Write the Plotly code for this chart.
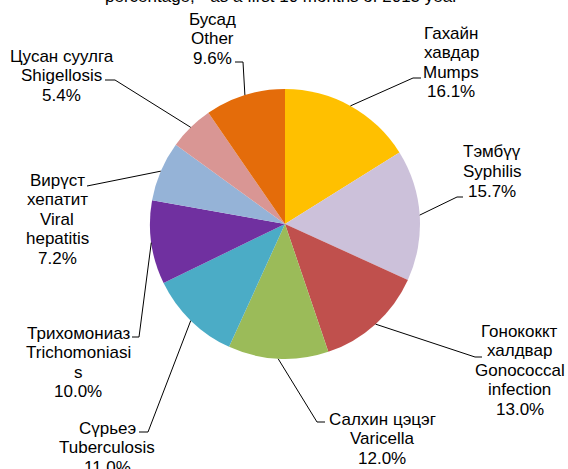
import math
import plotly.graph_objects as go

# ---------------- data ----------------
categories_mn = ["Гахайн хавдар", "Тэмбүү", "Гонококкт халдвар", "Салхин цэцэг",
                 "Сүрьеэ", "Трихомониаз", "Вирүст хепатит", "Цусан суулга", "Бусад"]
categories_en = ["Mumps", "Syphilis", "Gonococcal infection", "Varicella",
                 "Tuberculosis", "Trichomoniasis", "Viral hepatitis", "Shigellosis", "Other"]
values = [16.1, 15.7, 13.0, 12.0, 11.0, 10.0, 7.2, 5.4, 9.6]
colors = ["#FFC000", "#CCC1DA", "#C0504D", "#9BBB59", "#4BACC6",
          "#7030A0", "#95B3D7", "#D99694", "#E46C0A"]
title_text = 'percentage,  "as a first 10 months of 2013 year'

# ---------------- layout constants (pixels) ----------------
W, H = 568, 469
CX, CY, R = 285, 224, 135
FONT = "Liberation Sans, Arial, sans-serif"
FS = 17
LINE_GAP = 19.6
wrap_width = [12, 13, 13, 13, 13, 13, 13, 13, 13]
label_anchor = [(451, 33), (492, 152), (519.5, 331), (382, 419), (107, 428),
                (78, 333), (57, 180), (62, 56), (212, 19)]
leader_elbow = [(413, 78), (457, 197), (475, 357), (317, 422), (148, 432),
                (139, 337), (97, 184), (115, 80), (243, 62)]
leader_end = [(421, 78), (463, 197), (482, 357), (325, 422), (139, 432),
              (132, 337), (87, 186), (105, 80), (235, 62)]


def wrap(text, width):
    lines, cur = [], ""
    for word in text.split(" "):
        while len(word) > width:
            if cur:
                lines.append(cur)
                cur = ""
            lines.append(word[:width])
            word = word[width:]
        if not cur:
            cur = word
        elif len(cur) + 1 + len(word) <= width:
            cur += " " + word
        else:
            lines.append(cur)
            cur = word
    if cur:
        lines.append(cur)
    return lines


def px(x, y):
    return x / W, 1 - y / H


fig = go.Figure(go.Pie(
    values=values,
    labels=categories_en,
    sort=False,
    direction="clockwise",
    rotation=0,
    marker=dict(colors=colors, line=dict(width=0)),
    textinfo="none",
    textposition="none",
    hoverinfo="label+percent",
    showlegend=False,
    domain=dict(x=[(CX - R) / W, (CX + R) / W], y=[(H - CY - R) / H, (H - CY + R) / H]),
))

annotations = []
shapes = []
total = sum(values)
cum = 0.0
for i, v in enumerate(values):
    theta = 2 * math.pi * (cum + v / 2) / total
    cum += v
    sx, sy = CX + R * math.sin(theta), CY - R * math.cos(theta)
    ex, ey = leader_elbow[i]
    tx, ty = leader_end[i]
    p0, p1, p2 = px(sx, sy), px(ex, ey), px(tx, ty)
    shapes.append(dict(type="path", xref="paper", yref="paper",
                       path=f"M {p0[0]},{p0[1]} L {p1[0]},{p1[1]} L {p2[0]},{p2[1]}",
                       line=dict(color="black", width=1)))
    lines = wrap(categories_mn[i], wrap_width[i]) + wrap(categories_en[i], wrap_width[i]) + [f"{v:.1f}%"]
    ax, ay = label_anchor[i]
    for k, ln in enumerate(lines):
        x, y = px(ax, ay + k * LINE_GAP)
        annotations.append(dict(text=ln, x=x, y=y, xref="paper", yref="paper",
                                xanchor="center", yanchor="middle", showarrow=False,
                                font=dict(family=FONT, size=FS, color="black")))

tx, ty = px(281, -3)
annotations.append(dict(text=title_text, x=tx, y=ty, xref="paper", yref="paper",
                        xanchor="center", yanchor="middle", showarrow=False,
                        font=dict(family=FONT, size=FS, color="black")))

fig.update_layout(
    width=W, height=H,
    margin=dict(l=0, r=0, t=0, b=0),
    paper_bgcolor="white", plot_bgcolor="white",
    annotations=annotations,
    shapes=shapes,
)

fig.write_html("out.html", config={"displayModeBar": False},
               post_script="document.body.style.margin='0';document.body.style.overflow='hidden';")
